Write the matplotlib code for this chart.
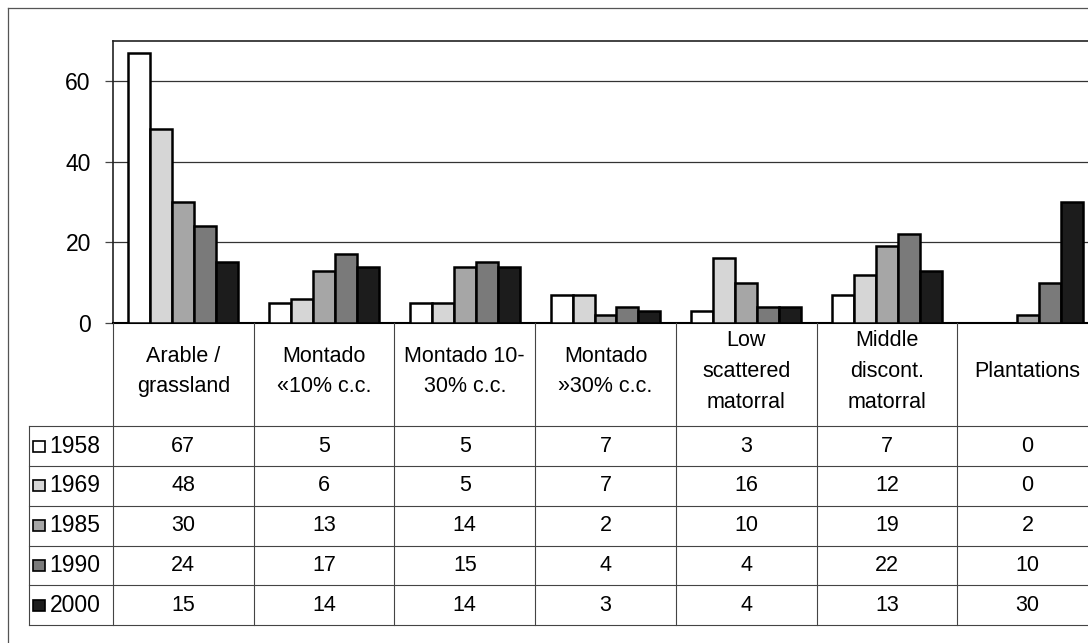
import numpy as np
import matplotlib
matplotlib.use("Agg")
import matplotlib.pyplot as plt
from matplotlib.patches import Rectangle
from matplotlib.lines import Line2D

plt.rcParams['font.family'] = ['Liberation Sans', 'DejaVu Sans']

categories = ["Arable /\ngrassland", "Montado\n«10% c.c.", "Montado 10-\n30% c.c.",
              "Montado\n»30% c.c.", "Low\nscattered\nmatorral",
              "Middle\ndiscont.\nmatorral", "Plantations"]
years = ["1958", "1969", "1985", "1990", "2000"]
v1958 = [67, 5, 5, 7, 3, 7, 0]
v1969 = [48, 6, 5, 7, 16, 12, 0]
v1985 = [30, 13, 14, 2, 10, 19, 2]
v1990 = [24, 17, 15, 4, 4, 22, 10]
v2000 = [15, 14, 14, 3, 4, 13, 30]
series = [v1958, v1969, v1985, v1990, v2000]
fills = ["#ffffff", "#d6d6d6", "#a6a6a6", "#7a7a7a", "#1c1c1c"]

W, H = 1088, 643
fig = plt.figure(figsize=(W / 100, H / 100), dpi=100)

# pixel layout of the chart block
left, right = 113, 1098
top, zero_y, table_bottom = 40.5, 323, 625
legend_left = 29

def fx(px):
    return px / W

def fy(py):
    return 1 - py / H

ax = fig.add_axes([fx(left), fy(zero_y), fx(right - left), (zero_y - top) / H])
tab = fig.add_axes([fx(left), fy(table_bottom), fx(right - left), (table_bottom - zero_y) / H])

n = len(categories)
x = np.arange(n)
bw = 0.156
for i, (vals, col) in enumerate(zip(series, fills)):
    ax.bar(x + (i - 2) * bw, vals, bw, color=col, edgecolor="black",
           linewidth=1.8, zorder=3)

ax.set_xlim(-0.5, n - 0.5)
ax.set_ylim(0, 70)
ax.set_yticks([0, 20, 40, 60])
ax.yaxis.grid(True, color="#333333", linewidth=0.9)
ax.set_axisbelow(True)
ax.set_xticks([])
ax.tick_params(axis="y", direction="out", length=6, width=0.9, color="#444444",
               pad=10, labelsize=16.5)
for s in ["left", "top"]:
    ax.spines[s].set_color("#222222")
    ax.spines[s].set_linewidth(1.2)
ax.spines["bottom"].set_color("black")
ax.spines["bottom"].set_linewidth(1.5)
ax.spines["right"].set_visible(False)
ax.patch.set_alpha(0)

# data table under the axis
header_h = 2.6
rows = len(years)
tab.set_xlim(-0.5, n - 0.5)
tab.set_ylim(header_h + rows, 0)
tab.axis("off")
leg_x = -0.5 - (left - legend_left) / ((right - left) / n)
lc = "#444444"
for b in np.arange(n + 1) - 0.5:
    tab.add_line(Line2D([b, b], [0, header_h + rows], color=lc, lw=0.8, clip_on=False))
tab.add_line(Line2D([leg_x, leg_x], [header_h, header_h + rows], color=lc, lw=0.8, clip_on=False))
for r in range(rows + 1):
    y = header_h + r
    tab.add_line(Line2D([leg_x, n], [y, y], color=lc, lw=0.8, clip_on=False))

for j, lab in enumerate(categories):
    tab.text(j, header_h / 2 - 0.08, lab, ha="center", va="center", fontsize=15.5,
             linespacing=1.6)
for r, (yr, vals, col) in enumerate(zip(years, series, fills)):
    yc = header_h + r + 0.5
    for j, v in enumerate(vals):
        tab.text(j, yc, str(v), ha="center", va="center", fontsize=15.5)
    tab.text(leg_x + 0.145, yc, yr, ha="left", va="center", fontsize=16.5, clip_on=False)
    tab.add_patch(Rectangle((leg_x + 0.03, yc - 0.14), 0.085, 0.28, facecolor=col,
                            edgecolor="black", lw=1.2, clip_on=False))

# outer chart frame
fig.add_artist(Line2D([fx(8), fx(8)], [fy(8), 0], color="#555555", lw=0.9))
fig.add_artist(Line2D([fx(8), 1], [fy(8), fy(8)], color="#555555", lw=0.9))

fig.savefig("out.png", dpi=100)
